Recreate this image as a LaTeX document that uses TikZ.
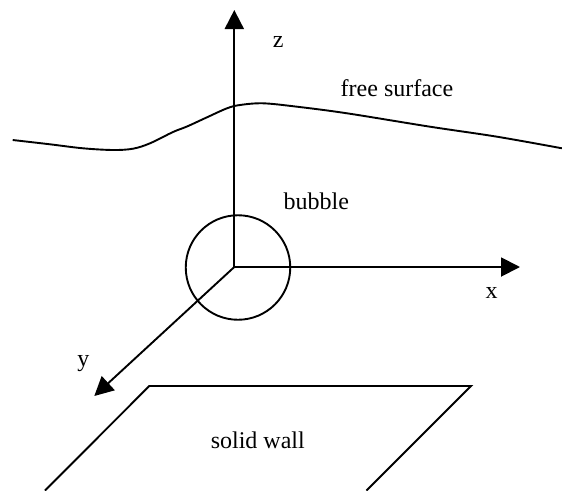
\documentclass[tikz,border=0pt]{standalone}
\usepackage{fontspec}
\setmainfont{Liberation Serif}
\usetikzlibrary{arrows.meta}
\begin{document}
\begin{tikzpicture}[x=1pt,y=-1pt,
  ln/.style={line width=1.9pt},
  axis/.style={ln,-{Triangle[length=19pt,width=19pt]}},
  lbl/.style={anchor=base,inner sep=0pt,font=\fontsize{24}{28}\selectfont}]
\useasboundingbox (0,0) rectangle (562,490);
\clip (0,0) rectangle (562,490);
% origin and axis tips
\coordinate (O) at (234.3,267);
\coordinate (zt) at (234.3,10);
\coordinate (xt) at (520,267);
\coordinate (yt) at (94.3,396);
% free surface
\draw[ln,line join=round] plot[smooth,tension=0.55] coordinates {
 (12.7,140) (50,144.3) (83,148.3) (113,150) (133,148.7) (150,143.3)
 (173,132) (187,126.5) (207,117.3) (227,108.3) (240,105)
 (263,103.3) (297,106.7) (347,113.3) (430,126.7) (497,136.7) (562,148.3)};
% bubble
\node[draw,ln,circle,minimum size=104.5pt,inner sep=0pt] (bub) at (238,267.5) {};
% axes
\draw[axis] (O) -- (zt);
\draw[axis] (O) -- (xt);
\draw[axis] (O) -- (yt);
% solid wall
\coordinate (w1) at (45,490.5);
\coordinate (w2) at (149.3,386);
\coordinate (w3) at (471,386);
\coordinate (w4) at (366.5,490.5);
\draw[ln] (w1) -- (w2) -- (w3) -- (w4);
% labels
\node[lbl] (lz) at (278.3,47.7) {z};
\node[lbl] (lx) at (491.7,298.3) {x};
\node[lbl] (ly) at (83.3,366.7) {y};
\node[lbl] (lfs) at (397,96.7) {free surface};
\node[lbl] (lbub) at (316.3,209.3) {bubble};
\node[lbl] (lwall) at (257.8,448.3) {solid wall};
\end{tikzpicture}
\end{document}
